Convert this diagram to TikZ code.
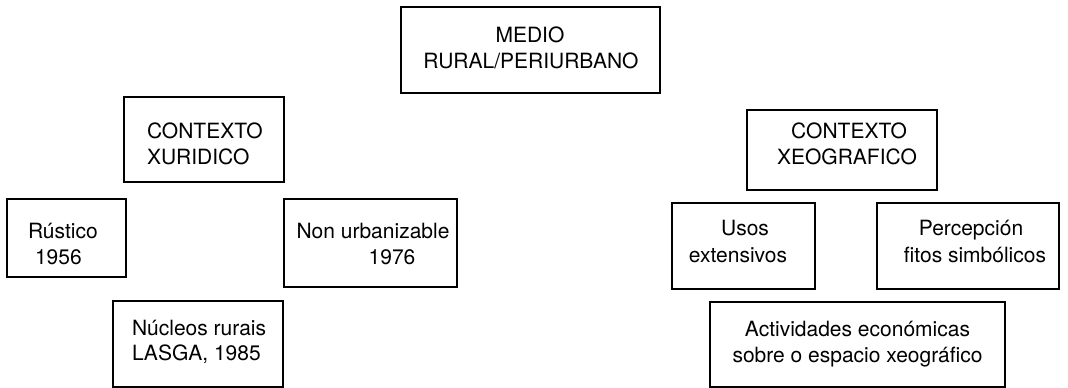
\documentclass[tikz,border=0pt]{standalone}
\usepackage{fontspec}
\setmainfont{TeX Gyre Heros}
\begin{document}
\begin{tikzpicture}[x=1pt,y=-1pt,
  bx/.style={draw=black, line width=1.1pt, inner sep=0pt, outer sep=0pt},
  tx/.style={inner sep=0pt, outer sep=0pt, font=\fontsize{21}{26}\selectfont, anchor=base},
  txl/.style={tx, anchor=base west}]
\useasboundingbox[fill=white] (0,0) rectangle (1068,388);
% boxes
\node[bx, minimum width=259, minimum height=86] (b1) at (530.5,50) {};
\node[bx, minimum width=160, minimum height=85] (b2) at (204,139.5) {};
\node[bx, minimum width=119, minimum height=78] (b3) at (66.5,238) {};
\node[bx, minimum width=173, minimum height=88] (b4) at (370.5,243) {};
\node[bx, minimum width=170, minimum height=86] (b5) at (198,344) {};
\node[bx, minimum width=190, minimum height=80] (b6) at (842,150) {};
\node[bx, minimum width=143, minimum height=86] (b7) at (743.5,246) {};
\node[bx, minimum width=182, minimum height=86] (b8) at (968,246) {};
\node[bx, minimum width=295, minimum height=85] (b9) at (857.5,344.5) {};
% slightly heavier stroke on the left part of the top of b6
\coordinate (b6k) at ([xshift=76pt,yshift=0.6pt]b6.north west);
\draw[line width=1.5pt] ([yshift=0.6pt]b6.north west) -- (b6k);
% texts
\node[tx] (t1a) at (530,42) {MEDIO};
\node[tx] (t1b) at (531,68) {RURAL/PERIURBANO};
\node[txl] (t2a) at (147,138) {CONTEXTO};
\node[txl] (t2b) at (147,164) {XURIDICO};
\node[txl] (t3a) at (28,238) {Rústico};
\node[txl] (t3b) at (35,264) {1956};
\node[tx] (t4a) at (373,238) {Non urbanizable};
\node[tx] (t4b) at (392,264) {1976};
\node[txl] (t5a) at (132,335) {Núcleos rurais};
\node[txl] (t5b) at (132,360) {LASGA, 1985};
\node[tx] (t6a) at (849,138) {CONTEXTO};
\node[tx] (t6b) at (847,164) {XEOGRAFICO};
\node[tx] (t7a) at (745,235) {Usos};
\node[tx] (t7b) at (738,262) {extensivos};
\node[tx] (t8a) at (971,235) {Percepción};
\node[tx] (t8b) at (975,262) {fitos simbólicos};
\node[tx] (t9a) at (857.5,336) {Actividades económicas};
\node[tx] (t9b) at (857.5,362) {sobre o espacio xeográfico};
\end{tikzpicture}
\end{document}
